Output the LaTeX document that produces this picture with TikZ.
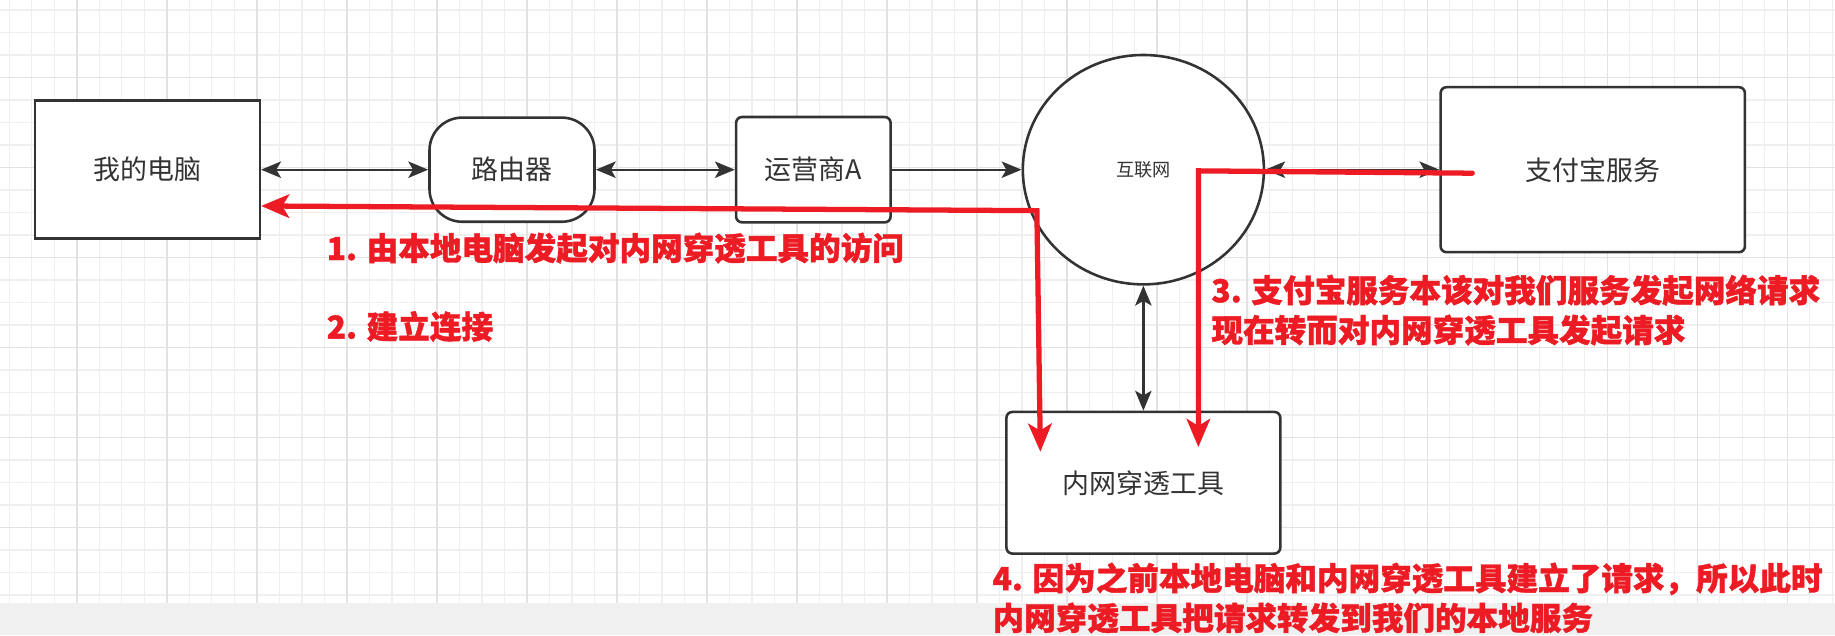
\documentclass[tikz,border=0pt]{standalone}
\usepackage{fontspec}
\usetikzlibrary{arrows.meta,shapes.geometric}
\newfontfamily\cjk{Noto Sans CJK SC}
\newfontfamily\cjkheavy{Noto Sans CJK SC}[BoldFeatures={FakeBold=1.3}]
\definecolor{gridminor}{HTML}{EFEFEF}
\definecolor{gridmajor}{HTML}{E2E2E2}
\definecolor{bandgray}{HTML}{F0F0F0}
\definecolor{strokegray}{HTML}{333333}
\definecolor{redline}{HTML}{ED1C24}
\begin{document}
\begin{tikzpicture}[x=1pt,y=-1pt,
  box/.style={draw=strokegray,line width=2.2pt,fill=white,inner sep=0pt,
    font=\cjk\fontsize{23}{28}\selectfont,text=strokegray},
  blkboth/.style={draw=strokegray,line width=2pt,{Stealth[length=17pt,width=14pt,inset=4pt]}-{Stealth[length=17pt,width=14pt,inset=4pt]}},
  blkone/.style={draw=strokegray,line width=2pt,-{Stealth[length=17pt,width=14pt,inset=4pt]}},
  redboth/.style={draw=redline,line width=4.5pt,{Stealth[length=24pt,width=20pt,inset=6pt]}-{Stealth[length=24pt,width=20pt,inset=6pt]}},
  redone/.style={draw=redline,line width=4.5pt,-{Stealth[length=24pt,width=20pt,inset=6pt]}},
  redtxt/.style={font=\cjkheavy\bfseries\fontsize{27}{34}\selectfont,text=redline,inner sep=0pt}
]
\useasboundingbox (0,0) rectangle (1568,543);
\fill[white] (0,0) rectangle (1568,543);
% grid
\foreach \i in {0,...,81} {
  \draw[gridminor,line width=1pt] ({8+19.23*\i},0) -- ({8+19.23*\i},515);
}
\foreach \i in {0,...,26} {
  \draw[gridminor,line width=1pt] (0,{8.5+19.23*\i}) -- (1568,{8.5+19.23*\i});
}
\foreach \j in {0,...,19} {
  \draw[gridmajor,line width=1.1pt] ({65.7+76.92*\j},0) -- ({65.7+76.92*\j},515);
}
\foreach \j in {0,...,5} {
  \draw[gridmajor,line width=1.1pt] (0,{66.2+76.92*\j}) -- (1568,{66.2+76.92*\j});
}
\fill[bandgray] (0,515) rectangle (1568,543);

% nodes
\node[box,minimum width=192pt,minimum height=118pt] (pc) at (126,145) {我的电脑};
\node[box,rounded corners=28pt,minimum width=141pt,minimum height=89pt] (router) at (437.5,145) {路由器};
\node[box,rounded corners=5pt,minimum width=132pt,minimum height=90pt] (isp) at (695,145) {运营商A};
\node[box,ellipse,minimum width=206pt,minimum height=196pt,font=\cjk\fontsize{15.5}{18}\selectfont] (inet) at (977,145) {互联网};
\node[box,rounded corners=5pt,minimum width=260pt,minimum height=141pt] (alipay) at (1361,145) {支付宝服务};
\node[box,rounded corners=5pt,minimum width=234pt,minimum height=121pt] (tunnel) at (977,412.5) {内网穿透工具};

% black connectors
\draw[blkboth] (pc) -- (router);
\draw[blkboth] (router) -- (isp);
\draw[blkone] (isp) -- (inet);
\draw[blkboth] (inet) -- (alipay);
\draw[blkboth] (inet) -- (tunnel);

% red arrows
\coordinate (r1corner) at (886,180);
\coordinate (r1end) at (889,386);
\draw[redboth] ([yshift=-31pt]pc.east) -- (r1corner) -- (r1end);
\coordinate (r3start) at (1258,148);
\coordinate (r3corner) at (1024,146);
\coordinate (r3end) at (1024,382);
\draw[redone,line cap=round] (r3start) -- (r3corner) -- (r3end);

% red texts
\node[redtxt,anchor=west] (t1) at (279,212) {1. 由本地电脑发起对内网穿透工具的访问};
\node[redtxt,anchor=west] (t2) at (279,279) {2. 建立连接};
\node[redtxt,anchor=west,align=left] (t3) at (1035,265) {3. 支付宝服务本该对我们服务发起网络请求\\现在转而对内网穿透工具发起请求};
\node[redtxt,anchor=west,align=left] (t4) at (848,511) {4. 因为之前本地电脑和内网穿透工具建立了请求，所以此时\\内网穿透工具把请求转发到我们的本地服务};
\end{tikzpicture}
\end{document}
